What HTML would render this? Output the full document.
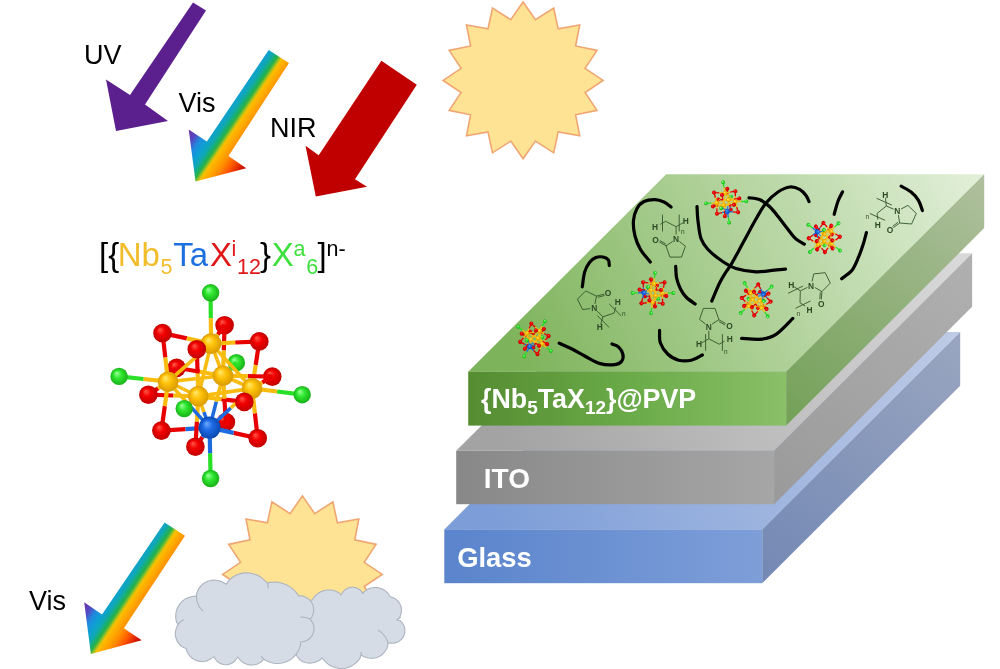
<!DOCTYPE html>
<html><head><meta charset="utf-8"><style>
html,body{margin:0;padding:0;background:#fff;width:1000px;height:669px;overflow:hidden}
svg{display:block;will-change:transform}
</style></head><body>
<svg width="1000" height="669" viewBox="0 0 1000 669">
<defs><radialGradient id="sg" cx="0.5" cy="0.5" r="0.5" fx="0.35" fy="0.3"><stop offset="0" stop-color="#FFEB70"/><stop offset="0.45" stop-color="#FFC20A"/><stop offset="1" stop-color="#D89A00"/></radialGradient><radialGradient id="sb" cx="0.5" cy="0.5" r="0.5" fx="0.35" fy="0.3"><stop offset="0" stop-color="#70A8FF"/><stop offset="0.45" stop-color="#1E6AE6"/><stop offset="1" stop-color="#0A48B0"/></radialGradient><radialGradient id="sr" cx="0.5" cy="0.5" r="0.5" fx="0.35" fy="0.3"><stop offset="0" stop-color="#FF5A4A"/><stop offset="0.45" stop-color="#F20000"/><stop offset="1" stop-color="#C00000"/></radialGradient><radialGradient id="sc" cx="0.5" cy="0.5" r="0.5" fx="0.35" fy="0.3"><stop offset="0" stop-color="#A0FFA0"/><stop offset="0.45" stop-color="#30E830"/><stop offset="1" stop-color="#18B018"/></radialGradient><linearGradient id="rb1" gradientUnits="userSpaceOnUse" x1="188.7" y1="129.5" x2="246.2" y2="168.3"><stop offset="0" stop-color="#7030A0"/><stop offset="0.12" stop-color="#5548C2"/><stop offset="0.22" stop-color="#1E8CE0"/><stop offset="0.315" stop-color="#0EA0D2"/><stop offset="0.39" stop-color="#10A8B0"/><stop offset="0.438" stop-color="#18B070"/><stop offset="0.472" stop-color="#28B048"/><stop offset="0.509" stop-color="#90C028"/><stop offset="0.539" stop-color="#F8C000"/><stop offset="0.607" stop-color="#FFAA00"/><stop offset="0.689" stop-color="#FF9000"/><stop offset="0.8" stop-color="#FF5A00"/><stop offset="0.9" stop-color="#E02800"/><stop offset="1" stop-color="#B80000"/></linearGradient><linearGradient id="rb2" gradientUnits="userSpaceOnUse" x1="84.2" y1="602.3" x2="141.7" y2="640.3"><stop offset="0" stop-color="#7030A0"/><stop offset="0.12" stop-color="#5548C2"/><stop offset="0.22" stop-color="#1E8CE0"/><stop offset="0.315" stop-color="#0EA0D2"/><stop offset="0.39" stop-color="#10A8B0"/><stop offset="0.438" stop-color="#18B070"/><stop offset="0.472" stop-color="#28B048"/><stop offset="0.509" stop-color="#90C028"/><stop offset="0.539" stop-color="#F8C000"/><stop offset="0.607" stop-color="#FFAA00"/><stop offset="0.689" stop-color="#FF9000"/><stop offset="0.8" stop-color="#FF5A00"/><stop offset="0.9" stop-color="#E02800"/><stop offset="1" stop-color="#B80000"/></linearGradient><linearGradient id="lgf" gradientUnits="userSpaceOnUse" x1="468.2" y1="0" x2="786.2" y2="0"><stop offset="0.00" stop-color="#558C32"/><stop offset="0.50" stop-color="#6AAA48"/><stop offset="1.00" stop-color="#8AC068"/></linearGradient><linearGradient id="lgt" gradientUnits="userSpaceOnUse" x1="528.2" y1="391.7" x2="984.2" y2="174.2"><stop offset="0" stop-color="#7DB35A"/><stop offset="1" stop-color="#E3F0DA"/></linearGradient><linearGradient id="lgs" gradientUnits="userSpaceOnUse" x1="786.2" y1="425.6" x2="984.2" y2="174.2"><stop offset="0" stop-color="#73A057"/><stop offset="1" stop-color="#AFC09E"/></linearGradient><linearGradient id="lif" gradientUnits="userSpaceOnUse" x1="456.2" y1="0" x2="774.1" y2="0"><stop offset="0.00" stop-color="#888888"/><stop offset="1.00" stop-color="#A6A6A6"/></linearGradient><linearGradient id="lit" gradientUnits="userSpaceOnUse" x1="516.2" y1="470.8" x2="972.1" y2="253.3"><stop offset="0" stop-color="#A3A3A3"/><stop offset="1" stop-color="#DADADA"/></linearGradient><linearGradient id="lis" gradientUnits="userSpaceOnUse" x1="774.1" y1="504.2" x2="972.1" y2="253.3"><stop offset="0" stop-color="#9A9A9A"/><stop offset="1" stop-color="#B0B0B0"/></linearGradient><linearGradient id="lbf" gradientUnits="userSpaceOnUse" x1="444.3" y1="0" x2="762.2" y2="0"><stop offset="0.00" stop-color="#5A84CC"/><stop offset="1.00" stop-color="#7E9ED8"/></linearGradient><linearGradient id="lbt" gradientUnits="userSpaceOnUse" x1="504.3" y1="549.4" x2="960.2" y2="331.9"><stop offset="0" stop-color="#7C9DD8"/><stop offset="1" stop-color="#BFCBE6"/></linearGradient><linearGradient id="lbs" gradientUnits="userSpaceOnUse" x1="762.2" y1="583.2" x2="960.2" y2="331.9"><stop offset="0" stop-color="#7388B4"/><stop offset="1" stop-color="#9AA6C0"/></linearGradient><g id="mol"><circle cx="224.6" cy="325.2" r="9.3" fill="url(#sr)"/>
<circle cx="176.6" cy="367.8" r="9.3" fill="url(#sr)"/>
<circle cx="272.3" cy="376.6" r="9.3" fill="url(#sr)"/>
<circle cx="225.9" cy="422" r="9.3" fill="url(#sr)"/>
<circle cx="236.4" cy="362.7" r="8.7" fill="url(#sc)"/>
<line x1="162.5" y1="333.1" x2="186.8" y2="338.4" stroke="#E80000" stroke-width="4.2"/><line x1="186.8" y1="338.4" x2="211.1" y2="343.6" stroke="#F8BC10" stroke-width="4.2"/>
<line x1="162.5" y1="333.1" x2="165.3" y2="357.4" stroke="#E80000" stroke-width="4.2"/><line x1="165.3" y1="357.4" x2="168.1" y2="381.7" stroke="#F8BC10" stroke-width="4.2"/>
<line x1="224.6" y1="325.2" x2="217.8" y2="334.4" stroke="#E80000" stroke-width="4.2"/><line x1="217.8" y1="334.4" x2="211.1" y2="343.6" stroke="#F8BC10" stroke-width="4.2"/>
<line x1="224.6" y1="325.2" x2="223.8" y2="350.4" stroke="#E80000" stroke-width="4.2"/><line x1="223.8" y1="350.4" x2="223" y2="375.7" stroke="#F8BC10" stroke-width="4.2"/>
<line x1="259.3" y1="341.4" x2="235.2" y2="342.5" stroke="#E80000" stroke-width="4.2"/><line x1="235.2" y1="342.5" x2="211.1" y2="343.6" stroke="#F8BC10" stroke-width="4.2"/>
<line x1="259.3" y1="341.4" x2="255.7" y2="364.9" stroke="#E80000" stroke-width="4.2"/><line x1="255.7" y1="364.9" x2="252.1" y2="388.4" stroke="#F8BC10" stroke-width="4.2"/>
<line x1="196.8" y1="349.2" x2="203.9" y2="346.4" stroke="#E80000" stroke-width="4.2"/><line x1="203.9" y1="346.4" x2="211.1" y2="343.6" stroke="#F8BC10" stroke-width="4.2"/>
<line x1="196.8" y1="349.2" x2="197.6" y2="372.8" stroke="#E80000" stroke-width="4.2"/><line x1="197.6" y1="372.8" x2="198.3" y2="396.3" stroke="#F8BC10" stroke-width="4.2"/>
<line x1="176.6" y1="367.8" x2="172.3" y2="374.8" stroke="#E80000" stroke-width="4.2"/><line x1="172.3" y1="374.8" x2="168.1" y2="381.7" stroke="#F8BC10" stroke-width="4.2"/>
<line x1="176.6" y1="367.8" x2="199.8" y2="371.8" stroke="#E80000" stroke-width="4.2"/><line x1="199.8" y1="371.8" x2="223" y2="375.7" stroke="#F8BC10" stroke-width="4.2"/>
<line x1="272.3" y1="376.6" x2="247.7" y2="376.1" stroke="#E80000" stroke-width="4.2"/><line x1="247.7" y1="376.1" x2="223" y2="375.7" stroke="#F8BC10" stroke-width="4.2"/>
<line x1="272.3" y1="376.6" x2="262.2" y2="382.5" stroke="#E80000" stroke-width="4.2"/><line x1="262.2" y1="382.5" x2="252.1" y2="388.4" stroke="#F8BC10" stroke-width="4.2"/>
<line x1="148.4" y1="394.7" x2="158.2" y2="388.2" stroke="#E80000" stroke-width="4.2"/><line x1="158.2" y1="388.2" x2="168.1" y2="381.7" stroke="#F8BC10" stroke-width="4.2"/>
<line x1="148.4" y1="394.7" x2="173.4" y2="395.5" stroke="#E80000" stroke-width="4.2"/><line x1="173.4" y1="395.5" x2="198.3" y2="396.3" stroke="#F8BC10" stroke-width="4.2"/>
<line x1="244.3" y1="401.9" x2="248.2" y2="395.1" stroke="#E80000" stroke-width="4.2"/><line x1="248.2" y1="395.1" x2="252.1" y2="388.4" stroke="#F8BC10" stroke-width="4.2"/>
<line x1="244.3" y1="401.9" x2="221.3" y2="399.1" stroke="#E80000" stroke-width="4.2"/><line x1="221.3" y1="399.1" x2="198.3" y2="396.3" stroke="#F8BC10" stroke-width="4.2"/>
<line x1="161.4" y1="430.6" x2="164.8" y2="406.1" stroke="#E80000" stroke-width="4.2"/><line x1="164.8" y1="406.1" x2="168.1" y2="381.7" stroke="#F8BC10" stroke-width="4.2"/>
<line x1="161.4" y1="430.6" x2="185.5" y2="429.1" stroke="#E80000" stroke-width="4.2"/><line x1="185.5" y1="429.1" x2="209.6" y2="427.6" stroke="#1E6AE0" stroke-width="4.2"/>
<line x1="225.9" y1="422" x2="224.4" y2="398.9" stroke="#E80000" stroke-width="4.2"/><line x1="224.4" y1="398.9" x2="223" y2="375.7" stroke="#F8BC10" stroke-width="4.2"/>
<line x1="225.9" y1="422" x2="217.8" y2="424.8" stroke="#E80000" stroke-width="4.2"/><line x1="217.8" y1="424.8" x2="209.6" y2="427.6" stroke="#1E6AE0" stroke-width="4.2"/>
<line x1="257.7" y1="438.2" x2="254.9" y2="413.3" stroke="#E80000" stroke-width="4.2"/><line x1="254.9" y1="413.3" x2="252.1" y2="388.4" stroke="#F8BC10" stroke-width="4.2"/>
<line x1="257.7" y1="438.2" x2="233.6" y2="432.9" stroke="#E80000" stroke-width="4.2"/><line x1="233.6" y1="432.9" x2="209.6" y2="427.6" stroke="#1E6AE0" stroke-width="4.2"/>
<line x1="195.4" y1="446.7" x2="196.9" y2="421.5" stroke="#E80000" stroke-width="4.2"/><line x1="196.9" y1="421.5" x2="198.3" y2="396.3" stroke="#F8BC10" stroke-width="4.2"/>
<line x1="195.4" y1="446.7" x2="202.5" y2="437.1" stroke="#E80000" stroke-width="4.2"/><line x1="202.5" y1="437.1" x2="209.6" y2="427.6" stroke="#1E6AE0" stroke-width="4.2"/>
<line x1="210.6" y1="292.8" x2="210.8" y2="318.2" stroke="#28E028" stroke-width="4.2"/><line x1="210.8" y1="318.2" x2="211.1" y2="343.6" stroke="#F8BC10" stroke-width="4.2"/>
<line x1="119.1" y1="376.4" x2="143.6" y2="379.0" stroke="#28E028" stroke-width="4.2"/><line x1="143.6" y1="379.0" x2="168.1" y2="381.7" stroke="#F8BC10" stroke-width="4.2"/>
<line x1="302.2" y1="394.7" x2="277.1" y2="391.5" stroke="#28E028" stroke-width="4.2"/><line x1="277.1" y1="391.5" x2="252.1" y2="388.4" stroke="#F8BC10" stroke-width="4.2"/>
<line x1="210.6" y1="478.5" x2="210.1" y2="453.1" stroke="#28E028" stroke-width="4.2"/><line x1="210.1" y1="453.1" x2="209.6" y2="427.6" stroke="#1E6AE0" stroke-width="4.2"/>
<line x1="236.4" y1="362.7" x2="229.7" y2="369.2" stroke="#28E028" stroke-width="4.2"/><line x1="229.7" y1="369.2" x2="223" y2="375.7" stroke="#F8BC10" stroke-width="4.2"/>
<line x1="184.2" y1="408.6" x2="191.2" y2="402.5" stroke="#28E028" stroke-width="4.2"/><line x1="191.2" y1="402.5" x2="198.3" y2="396.3" stroke="#F8BC10" stroke-width="4.2"/>
<line x1="211.1" y1="343.6" x2="189.6" y2="362.6" stroke="#F8BC10" stroke-width="3.6"/><line x1="189.6" y1="362.6" x2="168.1" y2="381.7" stroke="#F8BC10" stroke-width="3.6"/>
<line x1="211.1" y1="343.6" x2="217.1" y2="359.6" stroke="#F8BC10" stroke-width="3.6"/><line x1="217.1" y1="359.6" x2="223" y2="375.7" stroke="#F8BC10" stroke-width="3.6"/>
<line x1="211.1" y1="343.6" x2="231.6" y2="366.0" stroke="#F8BC10" stroke-width="3.6"/><line x1="231.6" y1="366.0" x2="252.1" y2="388.4" stroke="#F8BC10" stroke-width="3.6"/>
<line x1="211.1" y1="343.6" x2="204.7" y2="370.0" stroke="#F8BC10" stroke-width="3.6"/><line x1="204.7" y1="370.0" x2="198.3" y2="396.3" stroke="#F8BC10" stroke-width="3.6"/>
<line x1="168.1" y1="381.7" x2="195.6" y2="378.7" stroke="#F8BC10" stroke-width="3.6"/><line x1="195.6" y1="378.7" x2="223" y2="375.7" stroke="#F8BC10" stroke-width="3.6"/>
<line x1="223" y1="375.7" x2="237.6" y2="382.0" stroke="#F8BC10" stroke-width="3.6"/><line x1="237.6" y1="382.0" x2="252.1" y2="388.4" stroke="#F8BC10" stroke-width="3.6"/>
<line x1="252.1" y1="388.4" x2="225.2" y2="392.4" stroke="#F8BC10" stroke-width="3.6"/><line x1="225.2" y1="392.4" x2="198.3" y2="396.3" stroke="#F8BC10" stroke-width="3.6"/>
<line x1="198.3" y1="396.3" x2="183.2" y2="389.0" stroke="#F8BC10" stroke-width="3.6"/><line x1="183.2" y1="389.0" x2="168.1" y2="381.7" stroke="#F8BC10" stroke-width="3.6"/>
<line x1="209.6" y1="427.6" x2="188.8" y2="404.6" stroke="#1E6AE0" stroke-width="3.6"/><line x1="188.8" y1="404.6" x2="168.1" y2="381.7" stroke="#F8BC10" stroke-width="3.6"/>
<line x1="209.6" y1="427.6" x2="216.3" y2="401.6" stroke="#1E6AE0" stroke-width="3.6"/><line x1="216.3" y1="401.6" x2="223" y2="375.7" stroke="#F8BC10" stroke-width="3.6"/>
<line x1="209.6" y1="427.6" x2="230.8" y2="408.0" stroke="#1E6AE0" stroke-width="3.6"/><line x1="230.8" y1="408.0" x2="252.1" y2="388.4" stroke="#F8BC10" stroke-width="3.6"/>
<line x1="209.6" y1="427.6" x2="203.9" y2="412.0" stroke="#1E6AE0" stroke-width="3.6"/><line x1="203.9" y1="412.0" x2="198.3" y2="396.3" stroke="#F8BC10" stroke-width="3.6"/>
<circle cx="223" cy="375.7" r="10.3" fill="url(#sg)"/>
<circle cx="162.5" cy="333.1" r="9.3" fill="url(#sr)"/>
<circle cx="259.3" cy="341.4" r="9.3" fill="url(#sr)"/>
<circle cx="168.1" cy="381.7" r="10.3" fill="url(#sg)"/>
<circle cx="252.1" cy="388.4" r="10.3" fill="url(#sg)"/>
<circle cx="161.4" cy="430.6" r="9.3" fill="url(#sr)"/>
<circle cx="257.7" cy="438.2" r="9.3" fill="url(#sr)"/>
<circle cx="210.6" cy="292.8" r="8.7" fill="url(#sc)"/>
<circle cx="119.1" cy="376.4" r="8.7" fill="url(#sc)"/>
<circle cx="302.2" cy="394.7" r="8.7" fill="url(#sc)"/>
<circle cx="210.6" cy="478.5" r="8.7" fill="url(#sc)"/>
<circle cx="211.1" cy="343.6" r="10.3" fill="url(#sg)"/>
<circle cx="209.6" cy="427.6" r="11" fill="url(#sb)"/>
<circle cx="148.4" cy="394.7" r="9.3" fill="url(#sr)"/>
<circle cx="195.4" cy="446.7" r="9.3" fill="url(#sr)"/>
<circle cx="184.2" cy="408.6" r="8.7" fill="url(#sc)"/>
<circle cx="196.8" cy="349.2" r="9.3" fill="url(#sr)"/>
<circle cx="198.3" cy="396.3" r="10.3" fill="url(#sg)"/>
<circle cx="244.3" cy="401.9" r="9.3" fill="url(#sr)"/></g><g id="mols"><circle cx="224.6" cy="325.2" r="9.3" fill="url(#sr)"/>
<circle cx="176.6" cy="367.8" r="9.3" fill="url(#sr)"/>
<circle cx="272.3" cy="376.6" r="9.3" fill="url(#sr)"/>
<circle cx="225.9" cy="422" r="9.3" fill="url(#sr)"/>
<circle cx="236.4" cy="362.7" r="8.7" fill="url(#sc)"/>
<line x1="162.5" y1="333.1" x2="186.8" y2="338.4" stroke="#E80000" stroke-width="6"/><line x1="186.8" y1="338.4" x2="211.1" y2="343.6" stroke="#F8BC10" stroke-width="6"/>
<line x1="162.5" y1="333.1" x2="165.3" y2="357.4" stroke="#E80000" stroke-width="6"/><line x1="165.3" y1="357.4" x2="168.1" y2="381.7" stroke="#F8BC10" stroke-width="6"/>
<line x1="224.6" y1="325.2" x2="217.8" y2="334.4" stroke="#E80000" stroke-width="6"/><line x1="217.8" y1="334.4" x2="211.1" y2="343.6" stroke="#F8BC10" stroke-width="6"/>
<line x1="224.6" y1="325.2" x2="223.8" y2="350.4" stroke="#E80000" stroke-width="6"/><line x1="223.8" y1="350.4" x2="223" y2="375.7" stroke="#F8BC10" stroke-width="6"/>
<line x1="259.3" y1="341.4" x2="235.2" y2="342.5" stroke="#E80000" stroke-width="6"/><line x1="235.2" y1="342.5" x2="211.1" y2="343.6" stroke="#F8BC10" stroke-width="6"/>
<line x1="259.3" y1="341.4" x2="255.7" y2="364.9" stroke="#E80000" stroke-width="6"/><line x1="255.7" y1="364.9" x2="252.1" y2="388.4" stroke="#F8BC10" stroke-width="6"/>
<line x1="196.8" y1="349.2" x2="203.9" y2="346.4" stroke="#E80000" stroke-width="6"/><line x1="203.9" y1="346.4" x2="211.1" y2="343.6" stroke="#F8BC10" stroke-width="6"/>
<line x1="196.8" y1="349.2" x2="197.6" y2="372.8" stroke="#E80000" stroke-width="6"/><line x1="197.6" y1="372.8" x2="198.3" y2="396.3" stroke="#F8BC10" stroke-width="6"/>
<line x1="176.6" y1="367.8" x2="172.3" y2="374.8" stroke="#E80000" stroke-width="6"/><line x1="172.3" y1="374.8" x2="168.1" y2="381.7" stroke="#F8BC10" stroke-width="6"/>
<line x1="176.6" y1="367.8" x2="199.8" y2="371.8" stroke="#E80000" stroke-width="6"/><line x1="199.8" y1="371.8" x2="223" y2="375.7" stroke="#F8BC10" stroke-width="6"/>
<line x1="272.3" y1="376.6" x2="247.7" y2="376.1" stroke="#E80000" stroke-width="6"/><line x1="247.7" y1="376.1" x2="223" y2="375.7" stroke="#F8BC10" stroke-width="6"/>
<line x1="272.3" y1="376.6" x2="262.2" y2="382.5" stroke="#E80000" stroke-width="6"/><line x1="262.2" y1="382.5" x2="252.1" y2="388.4" stroke="#F8BC10" stroke-width="6"/>
<line x1="148.4" y1="394.7" x2="158.2" y2="388.2" stroke="#E80000" stroke-width="6"/><line x1="158.2" y1="388.2" x2="168.1" y2="381.7" stroke="#F8BC10" stroke-width="6"/>
<line x1="148.4" y1="394.7" x2="173.4" y2="395.5" stroke="#E80000" stroke-width="6"/><line x1="173.4" y1="395.5" x2="198.3" y2="396.3" stroke="#F8BC10" stroke-width="6"/>
<line x1="244.3" y1="401.9" x2="248.2" y2="395.1" stroke="#E80000" stroke-width="6"/><line x1="248.2" y1="395.1" x2="252.1" y2="388.4" stroke="#F8BC10" stroke-width="6"/>
<line x1="244.3" y1="401.9" x2="221.3" y2="399.1" stroke="#E80000" stroke-width="6"/><line x1="221.3" y1="399.1" x2="198.3" y2="396.3" stroke="#F8BC10" stroke-width="6"/>
<line x1="161.4" y1="430.6" x2="164.8" y2="406.1" stroke="#E80000" stroke-width="6"/><line x1="164.8" y1="406.1" x2="168.1" y2="381.7" stroke="#F8BC10" stroke-width="6"/>
<line x1="161.4" y1="430.6" x2="185.5" y2="429.1" stroke="#E80000" stroke-width="6"/><line x1="185.5" y1="429.1" x2="209.6" y2="427.6" stroke="#1E6AE0" stroke-width="6"/>
<line x1="225.9" y1="422" x2="224.4" y2="398.9" stroke="#E80000" stroke-width="6"/><line x1="224.4" y1="398.9" x2="223" y2="375.7" stroke="#F8BC10" stroke-width="6"/>
<line x1="225.9" y1="422" x2="217.8" y2="424.8" stroke="#E80000" stroke-width="6"/><line x1="217.8" y1="424.8" x2="209.6" y2="427.6" stroke="#1E6AE0" stroke-width="6"/>
<line x1="257.7" y1="438.2" x2="254.9" y2="413.3" stroke="#E80000" stroke-width="6"/><line x1="254.9" y1="413.3" x2="252.1" y2="388.4" stroke="#F8BC10" stroke-width="6"/>
<line x1="257.7" y1="438.2" x2="233.6" y2="432.9" stroke="#E80000" stroke-width="6"/><line x1="233.6" y1="432.9" x2="209.6" y2="427.6" stroke="#1E6AE0" stroke-width="6"/>
<line x1="195.4" y1="446.7" x2="196.9" y2="421.5" stroke="#E80000" stroke-width="6"/><line x1="196.9" y1="421.5" x2="198.3" y2="396.3" stroke="#F8BC10" stroke-width="6"/>
<line x1="195.4" y1="446.7" x2="202.5" y2="437.1" stroke="#E80000" stroke-width="6"/><line x1="202.5" y1="437.1" x2="209.6" y2="427.6" stroke="#1E6AE0" stroke-width="6"/>
<line x1="210.6" y1="292.8" x2="210.8" y2="318.2" stroke="#28E028" stroke-width="6"/><line x1="210.8" y1="318.2" x2="211.1" y2="343.6" stroke="#F8BC10" stroke-width="6"/>
<line x1="119.1" y1="376.4" x2="143.6" y2="379.0" stroke="#28E028" stroke-width="6"/><line x1="143.6" y1="379.0" x2="168.1" y2="381.7" stroke="#F8BC10" stroke-width="6"/>
<line x1="302.2" y1="394.7" x2="277.1" y2="391.5" stroke="#28E028" stroke-width="6"/><line x1="277.1" y1="391.5" x2="252.1" y2="388.4" stroke="#F8BC10" stroke-width="6"/>
<line x1="210.6" y1="478.5" x2="210.1" y2="453.1" stroke="#28E028" stroke-width="6"/><line x1="210.1" y1="453.1" x2="209.6" y2="427.6" stroke="#1E6AE0" stroke-width="6"/>
<line x1="236.4" y1="362.7" x2="229.7" y2="369.2" stroke="#28E028" stroke-width="6"/><line x1="229.7" y1="369.2" x2="223" y2="375.7" stroke="#F8BC10" stroke-width="6"/>
<line x1="184.2" y1="408.6" x2="191.2" y2="402.5" stroke="#28E028" stroke-width="6"/><line x1="191.2" y1="402.5" x2="198.3" y2="396.3" stroke="#F8BC10" stroke-width="6"/>
<line x1="211.1" y1="343.6" x2="189.6" y2="362.6" stroke="#F8BC10" stroke-width="4.2"/><line x1="189.6" y1="362.6" x2="168.1" y2="381.7" stroke="#F8BC10" stroke-width="4.2"/>
<line x1="211.1" y1="343.6" x2="217.1" y2="359.6" stroke="#F8BC10" stroke-width="4.2"/><line x1="217.1" y1="359.6" x2="223" y2="375.7" stroke="#F8BC10" stroke-width="4.2"/>
<line x1="211.1" y1="343.6" x2="231.6" y2="366.0" stroke="#F8BC10" stroke-width="4.2"/><line x1="231.6" y1="366.0" x2="252.1" y2="388.4" stroke="#F8BC10" stroke-width="4.2"/>
<line x1="211.1" y1="343.6" x2="204.7" y2="370.0" stroke="#F8BC10" stroke-width="4.2"/><line x1="204.7" y1="370.0" x2="198.3" y2="396.3" stroke="#F8BC10" stroke-width="4.2"/>
<line x1="168.1" y1="381.7" x2="195.6" y2="378.7" stroke="#F8BC10" stroke-width="4.2"/><line x1="195.6" y1="378.7" x2="223" y2="375.7" stroke="#F8BC10" stroke-width="4.2"/>
<line x1="223" y1="375.7" x2="237.6" y2="382.0" stroke="#F8BC10" stroke-width="4.2"/><line x1="237.6" y1="382.0" x2="252.1" y2="388.4" stroke="#F8BC10" stroke-width="4.2"/>
<line x1="252.1" y1="388.4" x2="225.2" y2="392.4" stroke="#F8BC10" stroke-width="4.2"/><line x1="225.2" y1="392.4" x2="198.3" y2="396.3" stroke="#F8BC10" stroke-width="4.2"/>
<line x1="198.3" y1="396.3" x2="183.2" y2="389.0" stroke="#F8BC10" stroke-width="4.2"/><line x1="183.2" y1="389.0" x2="168.1" y2="381.7" stroke="#F8BC10" stroke-width="4.2"/>
<line x1="209.6" y1="427.6" x2="188.8" y2="404.6" stroke="#1E6AE0" stroke-width="4.2"/><line x1="188.8" y1="404.6" x2="168.1" y2="381.7" stroke="#F8BC10" stroke-width="4.2"/>
<line x1="209.6" y1="427.6" x2="216.3" y2="401.6" stroke="#1E6AE0" stroke-width="4.2"/><line x1="216.3" y1="401.6" x2="223" y2="375.7" stroke="#F8BC10" stroke-width="4.2"/>
<line x1="209.6" y1="427.6" x2="230.8" y2="408.0" stroke="#1E6AE0" stroke-width="4.2"/><line x1="230.8" y1="408.0" x2="252.1" y2="388.4" stroke="#F8BC10" stroke-width="4.2"/>
<line x1="209.6" y1="427.6" x2="203.9" y2="412.0" stroke="#1E6AE0" stroke-width="4.2"/><line x1="203.9" y1="412.0" x2="198.3" y2="396.3" stroke="#F8BC10" stroke-width="4.2"/>
<circle cx="223" cy="375.7" r="10.3" fill="url(#sg)"/>
<circle cx="162.5" cy="333.1" r="9.3" fill="url(#sr)"/>
<circle cx="259.3" cy="341.4" r="9.3" fill="url(#sr)"/>
<circle cx="168.1" cy="381.7" r="10.3" fill="url(#sg)"/>
<circle cx="252.1" cy="388.4" r="10.3" fill="url(#sg)"/>
<circle cx="161.4" cy="430.6" r="9.3" fill="url(#sr)"/>
<circle cx="257.7" cy="438.2" r="9.3" fill="url(#sr)"/>
<circle cx="210.6" cy="292.8" r="8.7" fill="url(#sc)"/>
<circle cx="119.1" cy="376.4" r="8.7" fill="url(#sc)"/>
<circle cx="302.2" cy="394.7" r="8.7" fill="url(#sc)"/>
<circle cx="210.6" cy="478.5" r="8.7" fill="url(#sc)"/>
<circle cx="211.1" cy="343.6" r="10.3" fill="url(#sg)"/>
<circle cx="209.6" cy="427.6" r="11" fill="url(#sb)"/>
<circle cx="148.4" cy="394.7" r="9.3" fill="url(#sr)"/>
<circle cx="195.4" cy="446.7" r="9.3" fill="url(#sr)"/>
<circle cx="184.2" cy="408.6" r="8.7" fill="url(#sc)"/>
<circle cx="196.8" cy="349.2" r="9.3" fill="url(#sr)"/>
<circle cx="198.3" cy="396.3" r="10.3" fill="url(#sg)"/>
<circle cx="244.3" cy="401.9" r="9.3" fill="url(#sr)"/></g></defs>
<polygon points="523.1,2.0 535.4,19.7 553.7,8.0 558.2,28.9 579.7,25.0 575.6,46.0 597.0,50.4 585.1,68.3 603.1,80.4 585.1,92.5 597.0,110.4 575.6,114.8 579.7,135.8 558.2,131.9 553.7,152.8 535.4,141.1 523.1,158.8 510.8,141.1 492.5,152.8 488.0,131.9 466.5,135.8 470.6,114.8 449.2,110.4 461.1,92.5 443.1,80.4 461.1,68.3 449.2,50.4 470.6,46.0 466.5,25.0 488.0,28.9 492.5,8.0 510.8,19.7" fill="#FFE395" stroke="#F0A672" stroke-width="1.6" stroke-linejoin="miter"/>
<polygon points="193.0,2.5 206.0,10.5 145.0,104.6 168.0,121.0 116.0,131.0 106.0,79.5 130.0,95.0" fill="#5B1F8E"/>
<polygon points="268.7,50.0 289.0,63.0 228.5,156.0 246.2,168.3 195.5,181.4 188.7,129.5 206.9,141.6" fill="url(#rb1)"/>
<polygon points="381.4,60.8 416.8,84.7 355.0,179.2 367.0,186.8 315.8,196.4 305.5,145.7 318.7,155.3" fill="#C00000"/>
<polygon points="164.6,522.4 185.0,535.7 123.9,628.2 141.7,640.3 90.9,653.9 84.2,602.3 102.0,614.6" fill="url(#rb2)"/>
<g font-family="Liberation Sans, sans-serif" font-size="27" fill="#000"><text x="84" y="64">UV</text><text x="178.5" y="112.3">Vis</text><text x="270" y="136.7">NIR</text><text x="29" y="609.6">Vis</text></g>
<g font-family="Liberation Sans, sans-serif"><text x="99" y="265.6" font-size="33" fill="#000">[{</text><text x="117.7" y="265.6" font-size="33" fill="#F2BC2A">Nb</text><text x="160.5" y="273.6" font-size="21.5" fill="#F2BC2A">5</text><text x="173.2" y="265.6" font-size="33" fill="#1E6FE0">Ta</text><text x="210.1" y="265.6" font-size="33" fill="#E01818">X</text><text x="231.4" y="256.2" font-size="21.5" fill="#E01818">i</text><text x="237" y="273.6" font-size="21.5" fill="#E01818">12</text><text x="259.9" y="265.6" font-size="33" fill="#000">}</text><text x="271.7" y="265.6" font-size="33" fill="#3EE03E">X</text><text x="293.6" y="256.2" font-size="21.5" fill="#3EE03E">a</text><text x="306.2" y="273.6" font-size="21.5" fill="#3EE03E">6</text><text x="317.5" y="265.6" font-size="33" fill="#000">]</text><text x="326.6" y="256.2" font-size="21.5" fill="#000">n-</text></g>
<use href="#mol"/>
<polygon points="302.4,495.9 314.7,513.6 332.9,501.9 337.4,522.8 358.8,518.9 354.8,539.9 376.1,544.4 364.2,562.3 382.2,574.4 364.2,586.5 376.1,604.4 354.8,608.9 358.8,629.9 337.4,626.0 332.9,646.9 314.7,635.2 302.4,652.9 290.1,635.2 271.9,646.9 267.4,626.0 246.0,629.9 250.0,608.9 228.7,604.4 240.6,586.5 222.6,574.4 240.6,562.3 228.7,544.4 250.0,539.9 246.0,518.9 267.4,522.8 271.9,501.9 290.1,513.6" fill="#FFE395" stroke="#F0A672" stroke-width="1.6"/>
<path d="M300.0,602.0 L312.0,600.0 L313.5,598.0 L315.0,596.1 L316.8,594.4 L318.7,593.0 L320.8,591.8 L323.1,590.9 L325.4,590.3 L327.9,590.0 L330.3,590.0 L332.7,590.3 L335.1,591.0 L337.3,591.9 L339.4,593.1 L341.0,595.0 L342.0,593.3 L343.1,591.7 L344.5,590.3 L346.0,589.2 L347.7,588.3 L349.6,587.6 L351.5,587.3 L353.4,587.3 L355.3,587.6 L357.2,588.2 L358.9,589.1 L360.4,590.3 L361.8,591.7 L362.5,593.5 L364.1,591.8 L365.9,590.3 L367.9,589.1 L370.1,588.3 L372.4,587.7 L374.7,587.5 L377.0,587.5 L379.3,588.0 L381.6,588.7 L383.7,589.8 L385.6,591.1 L387.3,592.7 L388.8,594.5 L390.0,596.5 L392.1,597.3 L394.1,598.1 L395.9,599.3 L397.6,600.7 L399.0,602.4 L400.1,604.2 L400.9,606.2 L401.4,608.4 L401.5,610.5 L401.3,612.7 L400.7,614.8 L399.8,616.8 L398.6,618.6 L397.0,620.0 L399.8,620.5 L401.8,622.3 L403.4,624.6 L404.5,627.1 L404.9,629.8 L404.8,632.6 L404.1,635.2 L402.8,637.7 L401.0,639.8 L398.8,641.4 L396.3,642.6 L393.6,643.2 L390.9,643.1 L388.0,643.0 L387.8,645.6 L387.0,648.0 L385.8,650.3 L384.3,652.4 L382.5,654.2 L380.5,655.7 L378.2,656.9 L375.7,657.8 L373.2,658.3 L370.6,658.3 L368.1,658.0 L365.6,657.3 L363.3,656.3 L361.0,655.0 L359.9,658.3 L357.9,661.0 L355.4,663.4 L352.5,665.4 L349.4,667.0 L346.1,668.0 L342.7,668.5 L339.3,668.4 L335.9,667.8 L332.6,666.7 L329.5,665.1 L326.8,663.1 L324.3,660.6 L322.0,658.0 L320.7,659.2 L319.4,660.2 L317.9,661.1 L316.3,661.8 L314.7,662.4 L313.1,662.8 L311.4,663.0 L309.7,663.1 L307.9,663.0 L306.3,662.7 L304.6,662.3 L303.0,661.7 L301.5,660.9 L300.0,660.0 L297.2,656.5 L294.8,652.6 L292.7,648.6 L291.1,644.4 L290.0,640.0 L289.3,635.5 L289.1,631.0 L289.3,626.5 L290.0,622.0 L291.1,617.6 L292.7,613.4 L294.8,609.4 L297.2,605.5 L300.0,602.0Z" fill="#D6DCE5" stroke="#ADB4BF" stroke-width="1.1" stroke-linejoin="round"/><path d="M397.0,620.0 L397.6,619.4 L398.2,618.9 L398.9,618.4 L399.6,617.9 L400.3,617.4 L401.0,617.0 M388.0,643.0 L387.1,640.3 L385.9,637.8 L384.3,635.5 L382.4,633.4 L380.3,631.6 L378.0,630.0 M361.0,655.0 L361.1,654.5 L361.2,654.0 L361.2,653.5 L361.2,653.0 L361.1,652.5 L361.0,652.0" fill="none" stroke="#ADB4BF" stroke-width="1.1"/>
<path d="M196.5,595.9 L196.8,593.1 L197.8,590.5 L199.2,588.1 L200.9,585.9 L203.0,584.0 L205.3,582.4 L207.9,581.3 L210.6,580.5 L213.3,580.1 L216.1,580.2 L218.9,580.7 L221.5,581.6 L224.0,582.9 L226.5,584.3 L228.1,581.3 L230.6,578.8 L233.3,576.8 L236.3,575.1 L239.5,573.9 L242.9,573.1 L246.3,572.8 L249.7,573.0 L253.1,573.7 L256.4,574.8 L259.4,576.3 L262.3,578.3 L264.8,580.7 L267.4,583.0 L269.9,582.4 L272.5,582.2 L275.0,582.1 L277.6,582.3 L280.1,582.8 L282.6,583.4 L285.0,584.3 L287.4,585.3 L289.6,586.6 L291.7,588.1 L293.7,589.8 L295.5,591.6 L297.1,593.6 L298.7,595.6 L301.1,595.9 L303.4,596.3 L305.6,597.2 L307.7,598.3 L309.5,599.9 L311.1,601.7 L312.3,603.7 L313.2,605.9 L313.6,608.2 L313.7,610.6 L313.4,613.0 L312.7,615.2 L311.7,617.3 L310.3,619.3 L311.6,621.1 L312.7,623.0 L313.5,625.1 L314.0,627.3 L314.0,629.5 L313.7,631.7 L313.1,633.8 L312.0,635.8 L310.7,637.5 L309.1,639.0 L307.2,640.3 L305.2,641.1 L303.0,641.7 L300.8,641.8 L300.4,645.3 L299.3,648.7 L297.7,651.9 L295.7,654.8 L293.3,657.4 L290.5,659.5 L287.4,661.3 L284.1,662.5 L280.6,663.3 L277.1,663.5 L273.6,663.2 L270.1,662.3 L266.9,661.0 L263.7,659.3 L262.2,660.9 L260.5,662.3 L258.7,663.4 L256.6,664.2 L254.5,664.7 L252.4,665.0 L250.2,664.9 L248.1,664.6 L246.0,663.9 L244.0,663.0 L242.2,661.8 L240.5,660.4 L239.1,658.8 L237.8,657.0 L236.5,658.8 L235.2,660.5 L233.6,662.0 L231.8,663.2 L229.9,664.0 L227.8,664.6 L225.6,664.7 L223.5,664.5 L221.4,663.9 L219.5,663.0 L217.7,661.8 L216.2,660.3 L214.9,658.5 L214.0,656.6 L211.9,658.1 L209.8,659.5 L207.5,660.6 L205.1,661.3 L202.6,661.5 L200.0,661.4 L197.5,660.9 L195.2,660.0 L193.0,658.8 L191.0,657.2 L189.3,655.4 L187.9,653.2 L186.8,650.9 L186.1,648.5 L184.1,647.8 L182.3,646.8 L180.7,645.5 L179.2,644.0 L178.0,642.4 L176.9,640.6 L176.2,638.7 L175.6,636.6 L175.4,634.6 L175.4,632.5 L175.7,630.4 L176.3,628.4 L177.1,626.5 L178.1,624.7 L176.6,622.2 L175.9,619.3 L175.7,616.4 L175.9,613.4 L176.5,610.5 L177.5,607.8 L178.9,605.2 L180.7,602.9 L182.8,600.8 L185.2,599.1 L187.9,597.8 L190.6,596.9 L193.5,596.3 L196.5,595.9Z" fill="#D6DCE5" stroke="#ADB4BF" stroke-width="1.1" stroke-linejoin="round"/><path d="M196.5,595.9 L196.6,598.8 L197.1,601.6 L198.1,604.3 L199.4,606.9 L201.2,609.2 L203.2,611.2 M267.4,583.0 L267.6,583.9 L267.8,584.8 L267.9,585.7 L268.1,586.6 L268.2,587.5 L268.3,588.4 M310.3,619.3 L308.8,618.6 L307.2,618.0 L305.6,617.5 L303.9,617.2 L302.2,617.1 L300.5,617.1 M263.7,659.3 L263.3,658.7 L262.9,658.2 L262.5,657.7 L262.0,657.2 L261.6,656.7 L261.1,656.2 M178.1,624.7 L178.8,623.7 L179.6,622.7 L180.5,621.8 L181.5,621.1 L182.6,620.4 L183.7,619.8" fill="none" stroke="#ADB4BF" stroke-width="1.1"/>
<polygon points="444.3,529.4 642.3,331.9 960.2,331.9 762.2,529.4" fill="url(#lbt)"/><polygon points="762.2,529.4 960.2,331.9 960.2,385.7 762.2,583.2" fill="url(#lbs)"/><rect x="444.3" y="529.4" width="317.90000000000003" height="53.80000000000007" fill="url(#lbf)"/>
<polygon points="456.2,450.8 654.2,253.3 972.1,253.3 774.1,450.8" fill="url(#lit)"/><polygon points="774.1,450.8 972.1,253.3 972.1,306.7 774.1,504.2" fill="url(#lis)"/><rect x="456.2" y="450.8" width="317.90000000000003" height="53.39999999999998" fill="url(#lif)"/>
<polygon points="468.2,371.7 666.2,174.2 984.2,174.2 786.2,371.7" fill="url(#lgt)"/><polygon points="786.2,371.7 984.2,174.2 984.2,228.1 786.2,425.6" fill="url(#lgs)"/><rect x="468.2" y="371.7" width="318.00000000000006" height="53.900000000000034" fill="url(#lgf)"/>
<g fill="none" stroke="#000" stroke-width="3.2" stroke-linecap="round" stroke-linejoin="round">
<path d="M671.0,207.0 C669.8,206.2 666.7,203.2 664.0,202.0 C661.3,200.8 658.3,199.7 655.0,199.6 C651.7,199.5 647.0,200.0 644.0,201.5 C641.0,203.0 638.8,205.2 637.0,208.5 C635.2,211.8 633.7,216.4 633.4,221.0 C633.1,225.6 633.8,231.2 635.0,236.0 C636.2,240.8 638.0,245.2 640.5,249.5 C643.0,253.8 648.7,259.9 650.3,262.0"/>
<path d="M609.3,265.5 C609.1,264.6 609.4,261.4 608.4,260.0 C607.4,258.6 605.1,257.4 603.0,257.0 C600.9,256.6 598.0,256.7 595.8,257.6 C593.5,258.5 591.4,260.0 589.5,262.4 C587.6,264.8 585.9,267.8 584.7,271.9 C583.5,276.0 582.7,284.3 582.3,286.8"/>
<path d="M559.2,343.2 C561.2,344.1 566.6,346.3 571.0,348.5 C575.4,350.7 580.7,354.0 585.6,356.5 C590.5,359.0 595.3,362.2 600.2,363.6 C605.1,365.0 611.2,365.0 614.8,364.6 C618.4,364.2 620.5,362.8 621.8,361.0 C623.1,359.2 623.4,356.4 622.8,354.0 C622.2,351.6 620.2,348.6 618.4,346.9 C616.6,345.2 613.1,344.5 612.0,344.0"/>
<path d="M659.6,330.4 C659.7,332.5 659.0,339.1 660.4,343.0 C661.8,346.9 664.7,351.1 667.7,354.0 C670.7,356.9 674.7,359.2 678.6,360.2 C682.5,361.2 687.4,361.1 691.4,360.2 C695.4,359.3 700.6,355.9 702.4,355.0"/>
<path d="M675.7,266.4 C675.9,268.3 675.8,274.2 676.6,278.0 C677.4,281.8 678.9,285.8 680.5,289.0 C682.1,292.2 684.0,295.0 686.5,297.5 C689.0,300.0 693.8,302.9 695.2,304.0"/>
<path d="M697.0,206.5 C697.2,208.9 697.3,215.7 698.0,221.0 C698.7,226.3 699.3,233.8 701.0,238.5 C702.7,243.2 704.5,245.8 708.0,249.5 C711.5,253.2 717.3,257.8 722.0,261.0 C726.7,264.2 730.3,266.7 736.0,268.5 C741.7,270.3 749.7,271.5 756.0,271.8 C762.3,272.1 769.1,270.6 774.0,270.2 C778.9,269.8 783.6,269.4 785.5,269.2"/>
<path d="M711.8,301.0 C713.1,298.0 717.2,287.8 719.6,283.0 C722.0,278.2 723.9,275.3 726.0,272.0 C728.1,268.7 729.0,268.2 732.0,263.0 C735.0,257.8 740.0,248.3 744.0,241.0 C748.0,233.7 752.3,225.3 756.0,219.0 C759.7,212.7 762.3,207.5 766.0,203.0 C769.7,198.5 774.0,194.7 778.0,192.0 C782.0,189.3 786.3,187.4 790.0,187.0 C793.7,186.6 797.3,188.2 800.0,189.6 C802.7,191.0 804.5,193.5 806.0,195.5 C807.5,197.5 808.5,200.5 809.0,201.5"/>
<path d="M749.0,197.8 C750.8,198.1 756.5,198.3 760.0,199.8 C763.5,201.3 766.7,203.8 770.0,207.0 C773.3,210.2 776.7,214.8 780.0,219.0 C783.3,223.2 787.3,228.7 790.0,232.0 C792.7,235.3 793.6,237.0 796.0,239.0 C798.4,241.0 802.9,243.3 804.3,244.2"/>
<path d="M842.6,191.8 C841.8,193.4 839.4,197.4 838.0,201.2 C836.6,204.9 834.8,212.1 834.2,214.3"/>
<path d="M866.4,232.6 C865.9,234.5 864.5,240.1 863.2,244.2 C861.9,248.3 860.4,252.8 858.5,257.2 C856.6,261.6 854.8,266.7 852.0,270.3 C849.2,273.9 843.4,277.3 841.7,278.7"/>
<path d="M901.1,186.2 C902.7,187.1 907.9,189.5 910.8,191.8 C913.7,194.1 916.4,197.1 918.3,200.2 C920.2,203.3 921.7,208.8 922.4,210.5"/>
<path d="M741.6,338.4 C744.9,338.5 755.9,339.9 761.6,339.2 C767.3,338.5 770.8,337.9 776.0,334.4 C781.2,330.9 790.0,321.1 792.8,318.4"/>
</g>
<g fill="none" stroke="#34532A" stroke-width="0.9" stroke-linejoin="round"><polyline points="676.1,234.6 676.1,226.7"/><polyline points="660.2,224.4 665.6,221.3 676.1,226.7 681.5,223.6 683.3,222.6"/><polyline points="662.5,214.7 662.5,231.4"/><polyline points="679.2,214.7 679.2,231.4"/><polyline points="679.3,241.4 685.4,246.2 681.5,257.1 669.9,257.1 666.0,245.8 672.7,241.4"/><polyline points="666.0,245.8 659.2,241.9"/><polyline points="665.9,244.0 659.9,240.6"/><polyline points="597.3,311.2 602.9,316.8"/><polyline points="615.7,307.1 614.1,313.1 602.9,316.8 601.2,322.8 600.7,324.7"/><polyline points="621.0,315.6 609.1,303.8"/><polyline points="609.1,327.4 597.3,315.6"/><polyline points="590.2,308.6 582.5,309.5 577.5,299.1 585.7,290.9 596.5,296.1 594.9,304.0"/><polyline points="596.5,296.1 604.1,294.1"/><polyline points="597.8,297.3 604.5,295.5"/><polyline points="708.8,330.9 708.8,338.8"/><polyline points="724.6,341.1 719.2,344.2 708.8,338.8 703.4,341.9 701.5,342.9"/><polyline points="722.4,350.8 722.4,334.1"/><polyline points="705.6,350.8 705.6,334.1"/><polyline points="705.5,324.1 699.5,319.3 703.4,308.4 715.0,308.4 718.9,319.7 712.1,324.1"/><polyline points="718.9,319.7 725.6,323.6"/><polyline points="718.9,321.5 724.9,324.9"/><polyline points="807.4,287.4 800.3,290.9"/><polyline points="805.2,306.2 800.0,302.7 800.3,290.9 795.1,287.4 793.4,286.2"/><polyline points="795.5,308.3 810.5,301.0"/><polyline points="788.1,293.3 803.1,286.0"/><polyline points="812.1,281.5 813.7,273.9 825.2,272.7 830.3,283.1 821.9,291.6 815.0,287.5"/><polyline points="821.9,291.6 821.3,299.4"/><polyline points="820.3,292.4 819.8,299.3"/><polyline points="893.6,209.2 886.3,206.0"/><polyline points="877.8,219.6 877.1,213.4 886.3,206.0 885.7,199.8 885.5,197.7"/><polyline points="869.9,213.5 885.1,220.3"/><polyline points="876.6,198.3 891.9,205.1"/><polyline points="901.1,209.0 907.9,205.4 916.3,213.4 911.6,224.0 899.7,223.0 898.4,215.1"/><polyline points="899.7,223.0 893.4,227.6"/><polyline points="898.0,222.3 892.5,226.4"/></g>
<g font-family="Liberation Sans, sans-serif" font-weight="bold" fill="#2E4A24" text-anchor="middle"><text x="676.1" y="241.8" font-size="8.4">N</text><text x="655.1" y="229.7" font-size="8.4">H</text><text x="685.8" y="224.3" font-size="8.4">H</text><text x="655.5" y="242.9" font-size="8.4">O</text><text x="682.7" y="234.0" font-size="6.5" font-weight="normal">n</text><text x="594.3" y="311.2" font-size="8.4">N</text><text x="617.7" y="304.9" font-size="8.4">H</text><text x="599.8" y="330.4" font-size="8.4">H</text><text x="608.1" y="295.9" font-size="8.4">O</text><text x="623.8" y="316.3" font-size="6.5" font-weight="normal">n</text><text x="708.8" y="329.7" font-size="8.4">N</text><text x="729.8" y="341.8" font-size="8.4">H</text><text x="699.0" y="347.2" font-size="8.4">H</text><text x="729.4" y="328.6" font-size="8.4">O</text><text x="725.8" y="353.6" font-size="6.5" font-weight="normal">n</text><text x="811.1" y="288.6" font-size="8.4">N</text><text x="809.5" y="312.7" font-size="8.4">H</text><text x="791.2" y="287.5" font-size="8.4">H</text><text x="821.2" y="306.6" font-size="8.4">O</text><text x="798.2" y="316.1" font-size="6.5" font-weight="normal">n</text><text x="897.4" y="213.9" font-size="8.4">N</text><text x="877.8" y="228.2" font-size="8.4">H</text><text x="885.4" y="197.9" font-size="8.4">H</text><text x="890.0" y="233.2" font-size="8.4">O</text><text x="867.4" y="218.8" font-size="6.5" font-weight="normal">n</text></g>
<use href="#mols" transform="translate(534.5,338.9) rotate(30.7) scale(0.22) translate(-210.6,-385.6)"/>
<use href="#mols" transform="translate(653,293) rotate(90) scale(0.22) translate(-210.6,-385.6)"/>
<use href="#mols" transform="translate(726.2,202.4) rotate(-8.5) scale(0.22) translate(-210.6,-385.6)"/>
<use href="#mols" transform="translate(824.2,237.6) rotate(129.3) scale(0.22) translate(-210.6,-385.6)"/>
<use href="#mols" transform="translate(756.15,299.75) rotate(-130.5) scale(0.22) translate(-210.6,-385.6)"/>
<g font-family="Liberation Sans, sans-serif" font-weight="bold" fill="#FFFFFF"><text x="481" y="408.4" font-size="26.8">{Nb<tspan font-size="19" dy="6">5</tspan><tspan dy="-6">TaX</tspan><tspan font-size="19" dy="6">12</tspan><tspan dy="-6">}@PVP</tspan></text><text x="483.8" y="487.8" font-size="28">ITO</text><text x="457.2" y="566.8" font-size="27.4">Glass</text></g>
</svg></body></html>
